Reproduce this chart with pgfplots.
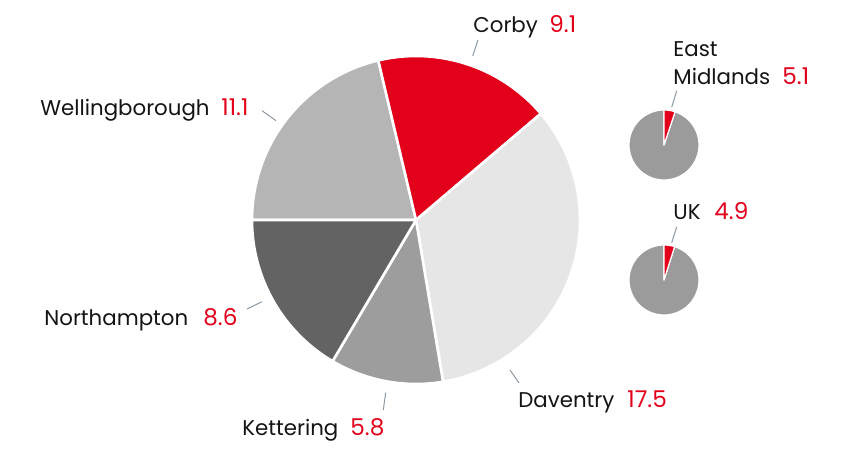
\documentclass[border=0pt]{standalone}
\usepackage{fontspec}
\setmainfont{Poppins}
\usepackage{pgfplots}
\pgfplotsset{compat=1.18}

\definecolor{ered}{RGB}{226,0,26}
\definecolor{cwel}{RGB}{181,181,181}
\definecolor{cdav}{RGB}{230,230,230}
\definecolor{cket}{RGB}{157,157,157}
\definecolor{cnor}{RGB}{99,99,99}
\definecolor{csmall}{RGB}{155,155,155}
\definecolor{clead}{RGB}{140,152,162}
\definecolor{ctext}{RGB}{20,20,20}

% slice values, clockwise from 9 o'clock
\def\vWel{11.1}\def\vCor{9.1}\def\vDav{17.5}\def\vKet{5.8}\def\vNor{8.6}
\def\vEM{5.1}\def\vUK{4.9}
\pgfmathsetmacro\tot{\vWel+\vCor+\vDav+\vKet+\vNor}
\pgfmathsetmacro\aA{180}
\pgfmathsetmacro\aB{\aA-360*\vWel/\tot}
\pgfmathsetmacro\aC{\aB-360*\vCor/\tot}
\pgfmathsetmacro\aD{\aC-360*\vDav/\tot}
\pgfmathsetmacro\aE{\aD-360*\vKet/\tot}
\pgfmathsetmacro\aF{\aE-360*\vNor/\tot}
\pgfmathsetmacro\eEM{90-360*\vEM/100}
\pgfmathsetmacro\eUK{90-360*\vUK/100}

\begin{document}
\begin{tikzpicture}
\path[use as bounding box] (0,0) rectangle (424bp,225bp);
\begin{axis}[
  at={(0,0)}, anchor=south west,
  scale only axis, width=424bp, height=225bp,
  xmin=0, xmax=848, ymin=0, ymax=450,
  hide axis, clip=false,
  every axis plot/.append style={samples=60, line join=round},
]
% main pie (centre 416,230; radius 164)
\addplot[fill=cwel, draw=white, line width=1.3bp, domain=\aA:\aB] ({416+164*cos(x)},{230+164*sin(x)}) -- (axis cs:416,230) -- cycle;
\addplot[fill=ered, draw=white, line width=1.3bp, domain=\aB:\aC] ({416+164*cos(x)},{230+164*sin(x)}) -- (axis cs:416,230) -- cycle;
\addplot[fill=cdav, draw=white, line width=1.3bp, domain=\aC:\aD] ({416+164*cos(x)},{230+164*sin(x)}) -- (axis cs:416,230) -- cycle;
\addplot[fill=cket, draw=white, line width=1.3bp, domain=\aD:\aE] ({416+164*cos(x)},{230+164*sin(x)}) -- (axis cs:416,230) -- cycle;
\addplot[fill=cnor, draw=white, line width=1.3bp, domain=\aE:\aF] ({416+164*cos(x)},{230+164*sin(x)}) -- (axis cs:416,230) -- cycle;

% East Midlands (centre 664,305; radius 35)
\addplot[fill=csmall, draw=white, line width=0.6bp, domain=\eEM:-270] ({664+35*cos(x)},{305+35*sin(x)}) -- (axis cs:664,305) -- cycle;
\addplot[fill=ered, draw=white, line width=0.6bp, domain=90:\eEM] ({664+35*cos(x)},{305+35*sin(x)}) -- (axis cs:664,305) -- cycle;
% UK (centre 664,170)
\addplot[fill=csmall, draw=white, line width=0.6bp, domain=\eUK:-270] ({664+35*cos(x)},{170+35*sin(x)}) -- (axis cs:664,170) -- cycle;
\addplot[fill=ered, draw=white, line width=0.6bp, domain=90:\eUK] ({664+35*cos(x)},{170+35*sin(x)}) -- (axis cs:664,170) -- cycle;

% leader lines
\addplot[clead, line width=0.5bp] coordinates {(262,339.3) (276,329.3)};
\addplot[clead, line width=0.5bp] coordinates {(478,410) (472.7,394)};
\addplot[clead, line width=0.5bp] coordinates {(676.7,359.3) (671.7,342.7)};
\addplot[clead, line width=0.5bp] coordinates {(676.7,223.3) (671.7,207.3)};
\addplot[clead, line width=0.5bp] coordinates {(510,80) (519,67)};
\addplot[clead, line width=0.5bp] coordinates {(385.7,57.3) (383.3,40)};
\addplot[clead, line width=0.5bp] coordinates {(247,141) (262,148.3)};

% labels
\tikzset{lab/.style={anchor=base west, inner sep=0pt, font=\fontsize{10.7}{13}\selectfont, text=ctext},
         val/.style={lab, font=\fontsize{11.6}{13}\selectfont, text=ered}}
\node[lab] at (axis cs:40,335) {Wellingborough};
\node[val] at (axis cs:221,335) {11.1};
\node[lab] at (axis cs:473,418) {Corby};
\node[val] at (axis cs:549,418) {9.1};
\node[lab] at (axis cs:673,394) {East};
\node[lab] at (axis cs:673,366) {Midlands};
\node[val] at (axis cs:782,366) {5.1};
\node[lab] at (axis cs:673,231) {UK};
\node[val] at (axis cs:714,231) {4.9};
\node[lab] at (axis cs:518,43) {Daventry};
\node[val] at (axis cs:627,43) {17.5};
\node[lab] at (axis cs:242,15) {Kettering};
\node[val] at (axis cs:350,15) {5.8};
\node[lab] at (axis cs:44,125) {Northampton};
\node[val] at (axis cs:203,125) {8.6};
\end{axis}
\end{tikzpicture}
\end{document}
